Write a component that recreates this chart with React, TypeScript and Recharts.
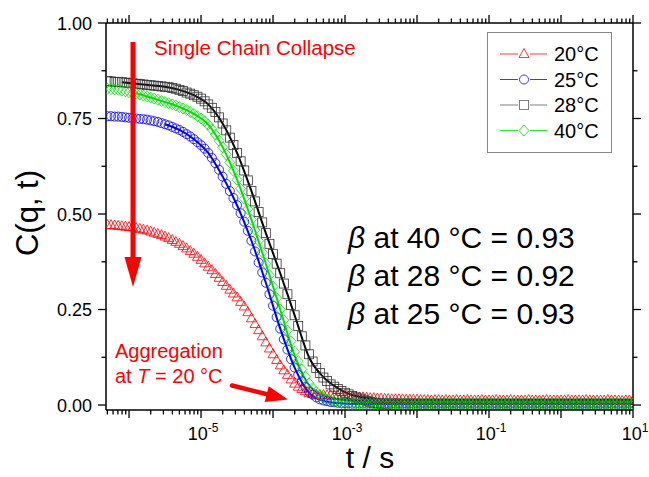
import React from 'react';
import { ComposedChart, Line, XAxis, YAxis, Legend } from 'recharts';

const W = 649;
const H = 477;
const FONT = '"Liberation Sans", Arial, Helvetica, sans-serif';

// log10(t / s) of the measured points (one row per decade)
const logTime = [
  -6.30, -6.25, -6.20, -6.15, -6.10, -6.05,
  -6.00, -5.95, -5.90, -5.85, -5.80, -5.75, -5.70, -5.65, -5.60, -5.55, -5.50, -5.45, -5.40, -5.35, -5.30, -5.25, -5.20, -5.15, -5.10, -5.05,
  -5.00, -4.95, -4.90, -4.85, -4.80, -4.75, -4.70, -4.65, -4.60, -4.55, -4.50, -4.45, -4.40, -4.35, -4.30, -4.25, -4.20, -4.15, -4.10, -4.05,
  -4.00, -3.95, -3.90, -3.85, -3.80, -3.75, -3.70, -3.65, -3.60, -3.55, -3.50, -3.45, -3.40, -3.35, -3.30, -3.25, -3.20, -3.15, -3.10, -3.05,
  -3.00, -2.95, -2.90, -2.85, -2.80, -2.75, -2.70, -2.65, -2.60, -2.55, -2.50, -2.45, -2.40, -2.35, -2.30, -2.25, -2.20, -2.15, -2.10, -2.05,
  -2.00, -1.95, -1.90, -1.85, -1.80, -1.75, -1.70, -1.65, -1.60, -1.55, -1.50, -1.45, -1.40, -1.35, -1.30, -1.25, -1.20, -1.15, -1.10, -1.05,
  -1.00, -0.95, -0.90, -0.85, -0.80, -0.75, -0.70, -0.65, -0.60, -0.55, -0.50, -0.45, -0.40, -0.35, -0.30, -0.25, -0.20, -0.15, -0.10, -0.05,
  0.00, 0.05, 0.10, 0.15, 0.20, 0.25, 0.30, 0.35, 0.40, 0.45, 0.50, 0.55, 0.60, 0.65, 0.70, 0.75, 0.80, 0.85, 0.90, 0.95,
  1.00,
];

const c20 = [
  0.471, 0.471, 0.470, 0.469, 0.468, 0.467,
  0.466, 0.465, 0.463, 0.461, 0.459, 0.457, 0.454, 0.451, 0.448, 0.445, 0.441, 0.437, 0.432, 0.427, 0.422, 0.416, 0.410, 0.403, 0.396, 0.388,
  0.380, 0.371, 0.362, 0.353, 0.343, 0.333, 0.322, 0.312, 0.302, 0.292, 0.282, 0.270, 0.258, 0.243, 0.227, 0.212, 0.196, 0.180, 0.164, 0.148,
  0.133, 0.118, 0.104, 0.091, 0.079, 0.067, 0.056, 0.048, 0.042, 0.036, 0.031, 0.029, 0.027, 0.026, 0.026, 0.025, 0.025, 0.024, 0.024, 0.023,
  0.023, 0.022, 0.022, 0.021, 0.020, 0.020, 0.019, 0.018, 0.018, 0.017, 0.017, 0.016, 0.016, 0.015, 0.015, 0.015, 0.015, 0.014, 0.014, 0.014,
  0.014, 0.013, 0.013, 0.013, 0.012, 0.013, 0.013, 0.012, 0.013, 0.012, 0.012, 0.013, 0.012, 0.012, 0.013, 0.012, 0.012, 0.012, 0.013, 0.012,
  0.012, 0.012, 0.013, 0.012, 0.012, 0.012, 0.013, 0.012, 0.012, 0.012, 0.012, 0.013, 0.012, 0.012, 0.012, 0.012, 0.013, 0.012, 0.012, 0.012,
  0.012, 0.012, 0.013, 0.012, 0.012, 0.012, 0.012, 0.013, 0.012, 0.012, 0.012, 0.012, 0.012, 0.013, 0.012, 0.012, 0.012, 0.011, 0.012, 0.012,
  0.012,
];

const c25 = [
  0.756, 0.756, 0.755, 0.755, 0.754, 0.753,
  0.752, 0.751, 0.750, 0.749, 0.748, 0.747, 0.745, 0.743, 0.741, 0.738, 0.735, 0.732, 0.728, 0.724, 0.720, 0.715, 0.709, 0.703, 0.696, 0.688,
  0.680, 0.671, 0.660, 0.647, 0.633, 0.616, 0.598, 0.579, 0.560, 0.542, 0.523, 0.502, 0.480, 0.456, 0.430, 0.402, 0.373, 0.347, 0.320, 0.290,
  0.260, 0.230, 0.200, 0.172, 0.145, 0.120, 0.098, 0.079, 0.062, 0.047, 0.035, 0.027, 0.020, 0.015, 0.012, 0.010, 0.008, 0.007, 0.006, 0.005,
  0.005, 0.005, 0.004, 0.004, 0.004, 0.004, 0.004, 0.004, 0.004, 0.004, 0.004, 0.004, 0.004, 0.004, 0.004, 0.004, 0.004, 0.004, 0.004, 0.004,
  0.004, 0.004, 0.004, 0.004, 0.004, 0.004, 0.004, 0.004, 0.004, 0.004, 0.004, 0.004, 0.004, 0.004, 0.004, 0.004, 0.004, 0.004, 0.004, 0.004,
  0.004, 0.004, 0.004, 0.004, 0.004, 0.004, 0.004, 0.004, 0.004, 0.004, 0.004, 0.004, 0.004, 0.004, 0.004, 0.004, 0.004, 0.004, 0.004, 0.004,
  0.004, 0.004, 0.004, 0.004, 0.004, 0.004, 0.004, 0.004, 0.004, 0.004, 0.004, 0.004, 0.004, 0.004, 0.004, 0.004, 0.004, 0.004, 0.004, 0.004,
  0.004,
];

const c28 = [
  0.848, 0.847, 0.846, 0.846, 0.845, 0.844,
  0.843, 0.842, 0.841, 0.840, 0.839, 0.838, 0.837, 0.836, 0.835, 0.834, 0.833, 0.832, 0.830, 0.828, 0.825, 0.822, 0.818, 0.815, 0.811, 0.807,
  0.802, 0.795, 0.787, 0.778, 0.767, 0.753, 0.737, 0.719, 0.700, 0.681, 0.660, 0.638, 0.614, 0.588, 0.560, 0.533, 0.505, 0.478, 0.450, 0.422,
  0.395, 0.370, 0.345, 0.318, 0.290, 0.262, 0.235, 0.207, 0.180, 0.156, 0.133, 0.114, 0.097, 0.084, 0.072, 0.063, 0.054, 0.048, 0.042, 0.037,
  0.032, 0.028, 0.024, 0.020, 0.017, 0.014, 0.011, 0.008, 0.006, 0.004, 0.003, 0.002, 0.001, 0.000, 0.000, 0.000, 0.000, 0.000, 0.000, 0.000,
  0.000, 0.000, 0.000, 0.000, 0.000, 0.000, 0.000, 0.000, 0.000, 0.000, 0.000, 0.000, 0.000, 0.000, 0.000, 0.000, 0.000, 0.000, 0.000, 0.000,
  0.000, 0.000, 0.000, 0.000, 0.000, 0.000, 0.000, 0.000, 0.000, 0.000, 0.000, 0.000, 0.000, 0.000, 0.000, 0.000, 0.000, 0.000, 0.000, 0.000,
  0.000, 0.000, 0.000, 0.000, 0.000, 0.000, 0.000, 0.000, 0.000, 0.000, 0.000, 0.000, 0.000, 0.000, 0.000, 0.000, 0.000, 0.000, 0.000, 0.000,
  0.000,
];

const c40 = [
  0.828, 0.827, 0.826, 0.825, 0.823, 0.821,
  0.819, 0.817, 0.815, 0.813, 0.810, 0.808, 0.805, 0.802, 0.799, 0.796, 0.793, 0.790, 0.787, 0.784, 0.780, 0.776, 0.772, 0.767, 0.762, 0.756,
  0.750, 0.743, 0.734, 0.722, 0.708, 0.692, 0.675, 0.656, 0.635, 0.613, 0.590, 0.566, 0.540, 0.513, 0.485, 0.458, 0.430, 0.400, 0.370, 0.340,
  0.310, 0.280, 0.250, 0.222, 0.195, 0.167, 0.140, 0.115, 0.093, 0.074, 0.057, 0.044, 0.034, 0.026, 0.020, 0.015, 0.012, 0.009, 0.007, 0.005,
  0.004, 0.003, 0.003, 0.003, 0.003, 0.003, 0.003, 0.003, 0.003, 0.003, 0.003, 0.003, 0.003, 0.003, 0.003, 0.003, 0.003, 0.003, 0.003, 0.003,
  0.004, 0.004, 0.004, 0.004, 0.004, 0.004, 0.004, 0.004, 0.004, 0.004, 0.004, 0.004, 0.004, 0.004, 0.004, 0.004, 0.004, 0.004, 0.004, 0.004,
  0.004, 0.004, 0.004, 0.004, 0.004, 0.004, 0.004, 0.004, 0.004, 0.004, 0.004, 0.004, 0.004, 0.004, 0.004, 0.004, 0.004, 0.004, 0.004, 0.004,
  0.004, 0.004, 0.004, 0.004, 0.004, 0.004, 0.004, 0.004, 0.004, 0.004, 0.004, 0.004, 0.004, 0.004, 0.004, 0.004, 0.004, 0.004, 0.004, 0.004,
  0.004,
];

// stretched-exponential fit curves
const fitLogTime = [
  -6.1, -5.9, -5.7, -5.5, -5.3, -5.1, -4.9, -4.7, -4.5, -4.3,
  -4.1, -3.9, -3.7, -3.5, -3.3, -3.1, -2.9, -2.7, -2.5, -2.2,
  -1.8, -1.0, 0.0, 1.0,
];
const fit28 = [
  0.845, 0.841, 0.837, 0.833, 0.825, 0.811, 0.787, 0.737, 0.660, 0.560,
  0.450, 0.345, 0.235, 0.125, 0.073, 0.044, 0.026, 0.018, 0.015, 0.014,
  0.013, 0.013, 0.013, 0.013,
];
const fit40 = [
  null, 0.816, 0.805, 0.793, 0.780, 0.762, 0.734, 0.675, 0.590, 0.485,
  0.370, 0.250, 0.130, 0.052, 0.027, 0.015, 0.010, 0.008, 0.008, 0.008,
  0.008, 0.008, 0.008, 0.008,
];
const fit25 = [
  null, null, null, 0.735, 0.720, 0.696, 0.660, 0.598, 0.523, 0.430,
  0.320, 0.200, 0.098, 0.032, 0.011, 0.005, 0.003, 0.003, 0.003, 0.003,
  0.003, 0.003, 0.003, 0.003,
];

const seriesInfo = [
  { key: 'c20', name: '20°C', color: '#ff0000', shape: 'triangle' },
  { key: 'c25', name: '25°C', color: '#0000ff', shape: 'circle' },
  { key: 'c28', name: '28°C', color: '#333333', shape: 'square' },
  { key: 'c40', name: '40°C', color: '#00e000', shape: 'diamond' },
];
const legendColors = ['#ff3b3b', '#3b3bff', '#808080', '#2ee82e'];

const yTicks = [0, 0.125, 0.25, 0.375, 0.5, 0.625, 0.75, 0.875, 1];
const yLabelled = [0, 0.25, 0.5, 0.75, 1];
const xLabelledExp = [-5, -3, -1, 1];
const xMin = Math.pow(10, -6.32);
const xMax = 10;
const yDomain = [-0.013, 1];

const xTicks: number[] = [];
for (let n = -7; n <= 0; n++) {
  for (let k = 1; k <= 9; k++) {
    const v = k * Math.pow(10, n);
    if (v >= xMin && v <= xMax) xTicks.push(v);
  }
}
xTicks.push(10);

const data = logTime.map((e, i) => ({
  t: Math.pow(10, e),
  c20: c20[i],
  c25: c25[i],
  c28: c28[i],
  c40: c40[i],
}));

const fitData = (vals: (number | null)[]) =>
  fitLogTime
    .map((e, i) => ({ t: Math.pow(10, e), v: vals[i] }))
    .filter((r) => r.v !== null);

function Marker({ shape, x, y, color, sw = 0.8 }: any) {
  const common = { fill: 'none', stroke: color, strokeWidth: sw };
  switch (shape) {
    case 'triangle':
      return <polygon points={`${x},${y - 5.5} ${x - 5},${y + 3.5} ${x + 5},${y + 3.5}`} {...common} />;
    case 'circle':
      return <circle cx={x} cy={y} r={4.5} {...common} />;
    case 'square':
      return <rect x={x - 4.5} y={y - 4.5} width={9} height={9} {...common} />;
    default:
      return <polygon points={`${x},${y - 5.5} ${x + 5},${y} ${x},${y + 5.5} ${x - 5},${y}`} {...common} />;
  }
}

const makeDot = (shape: string, color: string) => (p: any) => {
  const { cx, cy, index } = p;
  if (cx == null || cy == null || Number.isNaN(cy)) return <g key={`d${index}`} />;
  return <Marker key={`d${index}`} shape={shape} x={cx} y={cy} color={color} />;
};

const isMajor = (v: number) => {
  const e = Math.log10(v);
  return Math.abs(e - Math.round(e)) < 1e-6;
};

const XTickBottom = (p: any) => {
  const { x, y, payload } = p;
  const v = payload.value;
  const major = isMajor(v);
  const n = Math.round(Math.log10(v));
  const labelled = major && xLabelledExp.includes(n);
  return (
    <g>
      <line x1={x} x2={x} y1={y} y2={y + (major ? 8 : 4.5)} stroke="#000" strokeWidth={1.3} />
      {labelled && (
        <text x={x + 2} y={y + 30} textAnchor="middle" fontFamily={FONT} fill="#000">
          <tspan fontSize={18}>10</tspan>
          <tspan fontSize={12} dy={-8}>{String(n)}</tspan>
        </text>
      )}
    </g>
  );
};

const XTickTop = (p: any) => {
  const { x, y, payload } = p;
  const major = isMajor(payload.value);
  return <line x1={x} x2={x} y1={y} y2={y - (major ? 8 : 4.5)} stroke="#000" strokeWidth={1.3} />;
};

const YTickLeft = (p: any) => {
  const { x, y, payload } = p;
  const v = payload.value;
  const labelled = yLabelled.some((l) => Math.abs(l - v) < 1e-9);
  return (
    <g>
      <line x1={x} x2={x - (labelled ? 8 : 4.5)} y1={y} y2={y} stroke="#000" strokeWidth={1.3} />
      {labelled && (
        <text x={x - 14} y={y + 6.5} textAnchor="end" fontFamily={FONT} fontSize={18} fill="#000">
          {v.toFixed(2)}
        </text>
      )}
    </g>
  );
};

const YTickRight = (p: any) => {
  const { x, y, payload } = p;
  const labelled = yLabelled.some((l) => Math.abs(l - payload.value) < 1e-9);
  return <line x1={x} x2={x + (labelled ? 8 : 4.5)} y1={y} y2={y} stroke="#000" strokeWidth={1.3} />;
};

const LegendBox = () => (
  <div
    style={{
      width: 125,
      height: 121,
      border: '1.5px solid #888',
      boxSizing: 'border-box',
      background: '#fff',
    }}
  >
    <svg width={122} height={118} style={{ display: 'block' }}>
      {seriesInfo.map((s, i) => {
        const cy = 21 + i * 25.5;
        return (
          <g key={s.key}>
            <line x1={12} x2={59} y1={cy} y2={cy} stroke={legendColors[i]} strokeWidth={1} />
            <rect x={30} y={cy - 7} width={12} height={14} fill="#fff" />
            <Marker shape={s.shape} x={36} y={cy} color={legendColors[i]} sw={1} />
            <text x={66} y={cy + 7} fontFamily={FONT} fontSize={20} fill="#000">
              {s.name}
            </text>
          </g>
        );
      })}
    </svg>
  </div>
);

const axisLine = { stroke: '#000', strokeWidth: 1.5 };

export default function App() {
  return (
    <div style={{ position: 'absolute', left: 0, top: 0, width: W, height: H, background: '#fff' }}>
      <ComposedChart width={W} height={H} data={data} margin={{ top: 0, right: 0, bottom: 0, left: 0 }}>
        <XAxis
          xAxisId="b"
          dataKey="t"
          type="number"
          scale="log"
          domain={[xMin, xMax]}
          allowDataOverflow
          ticks={xTicks}
          interval={0}
          tick={(p: any) => <XTickBottom {...p} />}
          tickLine={false}
          tickSize={0}
          tickMargin={0}
          axisLine={axisLine}
          height={67}
          orientation="bottom"
        />
        <XAxis
          xAxisId="top"
          dataKey="t"
          type="number"
          scale="log"
          domain={[xMin, xMax]}
          allowDataOverflow
          ticks={xTicks}
          interval={0}
          tick={(p: any) => <XTickTop {...p} />}
          tickLine={false}
          tickSize={0}
          tickMargin={0}
          axisLine={axisLine}
          height={23}
          orientation="top"
        />
        <YAxis
          yAxisId="l"
          type="number"
          domain={yDomain}
          allowDataOverflow
          ticks={yTicks}
          interval={0}
          tick={(p: any) => <YTickLeft {...p} />}
          tickLine={false}
          tickSize={0}
          tickMargin={0}
          axisLine={axisLine}
          width={106}
        />
        <YAxis
          yAxisId="r"
          orientation="right"
          type="number"
          domain={yDomain}
          allowDataOverflow
          ticks={yTicks}
          interval={0}
          tick={(p: any) => <YTickRight {...p} />}
          tickLine={false}
          tickSize={0}
          tickMargin={0}
          axisLine={axisLine}
          width={16}
        />
        {seriesInfo.map((s) => (
          <Line
            key={s.key}
            xAxisId="b"
            yAxisId="l"
            dataKey={s.key}
            name={s.name}
            stroke="none"
            dot={makeDot(s.shape, s.color)}
            activeDot={false}
            isAnimationActive={false}
          />
        ))}
        <Line xAxisId="b" yAxisId="l" data={fitData(fit25)} dataKey="v" type="monotone" stroke="#0000ff" strokeWidth={2} dot={false} activeDot={false} isAnimationActive={false} legendType="none" />
        <Line xAxisId="b" yAxisId="l" data={fitData(fit40)} dataKey="v" type="monotone" stroke="#00e000" strokeWidth={2} dot={false} activeDot={false} isAnimationActive={false} legendType="none" />
        <Line xAxisId="b" yAxisId="l" data={fitData(fit28)} dataKey="v" type="monotone" stroke="#000000" strokeWidth={2} dot={false} activeDot={false} isAnimationActive={false} legendType="none" />
        <Legend
          layout="vertical"
          align="center"
          verticalAlign="middle"
          wrapperStyle={{ position: 'absolute', left: 487, top: 32, width: 125, height: 121 }}
          content={() => <LegendBox />}
        />
      </ComposedChart>
      <svg
        width={W}
        height={H}
        style={{ position: 'absolute', left: 0, top: 0, pointerEvents: 'none' }}
      >
        <text
          x={38}
          y={213}
          transform="rotate(-90 38 213)"
          textAnchor="middle"
          fontFamily={FONT}
          fontSize={31}
          fill="#000"
        >
          C(q, t)
        </text>
        <text x={370} y={468} textAnchor="middle" fontFamily={FONT} fontSize={30} fill="#000">
          t / s
        </text>
        {/* vertical arrow */}
        <line x1={133} x2={133} y1={42} y2={258} stroke="#ff0000" strokeWidth={5} />
        <polygon points="124.5,257 141.5,257 133,287" fill="#ff0000" />
        <text x={154} y={55} fontFamily={FONT} fontSize={20.5} fill="#ff0000">
          Single Chain Collapse
        </text>
        <text x={115} y={358} fontFamily={FONT} fontSize={20} fill="#ff0000">
          Aggregation
        </text>
        <text x={115} y={383} fontFamily={FONT} fontSize={20} fill="#ff0000">
          at <tspan fontStyle="italic">T</tspan> = 20 °C
        </text>
        {/* small arrow */}
        <line x1={232} y1={385.5} x2={268} y2={394.5} stroke="#ff0000" strokeWidth={4.5} strokeLinecap="round" />
        <polygon points="264.7,401.9 268.7,386.3 288,399.5" fill="#ff0000" />
        <text x={348} y={248} fontFamily={FONT} fontSize={30} fill="#000">
          <tspan fontStyle="italic">β</tspan> at 40 °C = 0.93
        </text>
        <text x={348} y={286} fontFamily={FONT} fontSize={30} fill="#000">
          <tspan fontStyle="italic">β</tspan> at 28 °C = 0.92
        </text>
        <text x={348} y={324} fontFamily={FONT} fontSize={30} fill="#000">
          <tspan fontStyle="italic">β</tspan> at 25 °C = 0.93
        </text>
      </svg>
    </div>
  );
}
